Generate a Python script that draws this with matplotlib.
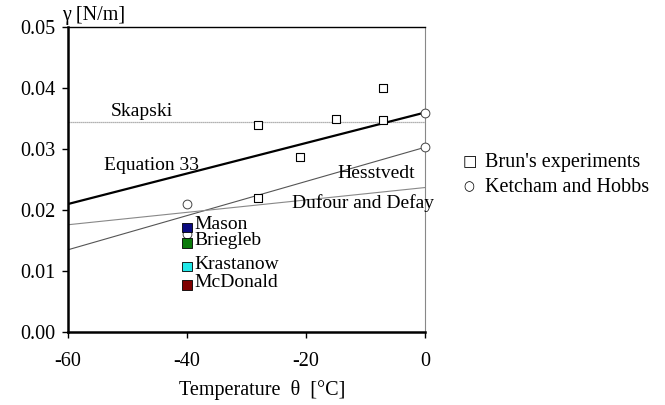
import matplotlib
matplotlib.use("Agg")
import matplotlib.pyplot as plt

plt.rcParams['font.family'] = ['Liberation Serif', 'DejaVu Serif']
FS = 14.5
FS_IN = 14

# Brun's experiments (squares)
brun_t = [-28, -21, -15, -7, -7, -28]
brun_g = [0.0339, 0.0287, 0.0349, 0.0400, 0.0348, 0.0220]

# Ketcham and Hobbs (circles)
ketcham_t = [0, 0, -40, -40]
ketcham_g = [0.0360, 0.0303, 0.0210, 0.0161]

# Model lines: endpoints at -60 and 0 degC
line_t = [-60, 0]
skapski_g = [0.0344, 0.0344]
eq33_g = [0.0210, 0.0360]
hesstvedt_g = [0.0135, 0.0303]
dufour_g = [0.0176, 0.0237]

# Single-value estimates at -40 degC
other_names = ["Mason", "Briegleb", "Krastanow", "McDonald"]
other_t = [-40, -40, -40, -40]
other_g = [0.0172, 0.0146, 0.0107, 0.0077]
other_colors = ["#0a0a80", "#0a7a0a", "#20e8e8", "#800000"]

fig = plt.figure(figsize=(6.65, 4.05), dpi=100)
ax = fig.add_axes([0.1023, 0.180, 0.5367, 0.753])

ax.plot(line_t, skapski_g, color="#999999", lw=0.9, ls=(0, (1, 0.6)))
ax.plot(line_t, eq33_g, color="black", lw=1.6)
ax.plot(line_t, hesstvedt_g, color="#555555", lw=0.8)
ax.plot(line_t, dufour_g, color="#888888", lw=0.8)

ax.scatter(brun_t, brun_g, marker="s", s=40, facecolor="white",
           edgecolor="black", linewidth=0.8, zorder=5, clip_on=False)
ax.scatter(ketcham_t, ketcham_g, marker="o", s=40, facecolor="white",
           edgecolor="#444444", linewidth=0.7, zorder=5, clip_on=False)
ax.scatter(other_t, other_g, marker="s", s=45, c=other_colors,
           edgecolor="black", linewidth=0.6, zorder=6)
for name, t, g in zip(other_names, other_t, other_g):
    ax.text(t + 1.3, g + 0.0004, name, fontsize=FS_IN, va="center", ha="left")

ax.text(-52.8, 0.0355, "Skapski", fontsize=FS_IN)
ax.text(-54.0, 0.0265, "Equation 33", fontsize=FS_IN)
ax.text(-14.8, 0.0253, "Hesstvedt", fontsize=FS_IN)
ax.text(-22.3, 0.0204, "Dufour and Defay", fontsize=FS_IN)

ax.set_xlim(-60, 0)
ax.set_ylim(0, 0.05)
ax.set_xticks([-60, -40, -20, 0])
ax.set_xticklabels(["-60", "-40", "-20", "0"])
ax.set_yticks([0, 0.01, 0.02, 0.03, 0.04, 0.05])
ax.set_yticklabels(["0.00", "0.01", "0.02", "0.03", "0.04", "0.05"])
ax.tick_params(labelsize=FS, direction="out", length=4, width=1.0)
ax.tick_params(axis="x", pad=10)
ax.tick_params(axis="y", pad=5)

ax.spines["left"].set_linewidth(1.8)
ax.spines["bottom"].set_linewidth(1.8)
ax.spines["top"].set_linewidth(1.0)
ax.spines["right"].set_linewidth(0.8)
ax.spines["right"].set_color("#888888")

fig.text(0.395, 0.037, "Temperature  θ  [°C]", fontsize=FS, ha="center", va="center")
fig.text(0.093, 0.962, "γ [N/m]", fontsize=FS, ha="left", va="center")

# Legend for the two experimental series
fig.text(0.695, 0.600, "□", fontsize=11, va="center", ha="left", family=["DejaVu Sans"])
fig.text(0.730, 0.600, "Brun's experiments", fontsize=FS, va="center", ha="left")
fig.text(0.697, 0.538, "○", fontsize=9, va="center", ha="left", family=["DejaVu Sans"])
fig.text(0.730, 0.538, "Ketcham and Hobbs", fontsize=FS, va="center", ha="left")

fig.savefig("out.png", dpi=100)
